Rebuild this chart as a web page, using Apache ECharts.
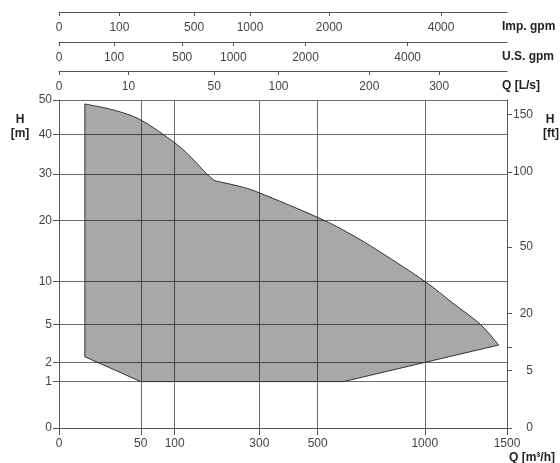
<!DOCTYPE html>
<html><head><meta charset="utf-8">
<script src="https://cdn.jsdelivr.net/npm/echarts@6/dist/echarts.min.js"></script>
<style>html,body{margin:0;padding:0;background:#fff}#c{width:560px;height:463px}</style>
</head><body><div id="c"></div>
<script>
// Tick label values (axes are square-root scaled)
const flowTicksM3h    = [0, 50, 100, 300, 500, 1000, 1500];
const flowTicksImpGpm = [0, 100, 500, 1000, 2000, 4000];
const flowTicksUsGpm  = [0, 100, 500, 1000, 2000, 4000];
const flowTicksLs     = [0, 10, 50, 100, 200, 300];
const headTicksM      = [0, 1, 2, 5, 10, 20, 30, 40, 50];
const headTicksFt     = [0, 5, 10, 20, 50, 100, 150];
const headLabelsFt    = [0, 5, 20, 50, 100, 150];

// Performance envelope outline: flow Q [m3/h], head H [m]
const envelopeQ = [5, 22, 50, 100, 130, 163, 182, 245, 300, 505, 634, 771, 1000, 1156, 1326, 1445, 1000, 605, 50, 5];
const envelopeH = [48.8, 47.0, 44.1, 37.8, 34.1, 30, 28.4, 27.1, 25.7, 20.5, 17.5, 14.4, 10, 7.3, 5, 3.2, 2, 1, 1, 2.36];

// which runs of the outline are drawn as smooth curves (index ranges)
const SMOOTH_RUNS = [[0, 6], [6, 15]];

// unit conversions
const M3H_PER_IMP = 0.2727654;
const M3H_PER_US = 0.22712471;
const M3H_PER_LS = 3.6;
const M_PER_FT = 0.3048;

const Q_MAX = 1500, H_MAX = 50;
const FONT = 'Liberation Sans, Arial, sans-serif';
const LBL = '#444';
const AX = '#555';
const GRIDC = '#6c6c6c';

function topAxis(ticks, factor, offset) {
  const cv = ticks.map(v => Math.sqrt(v * factor));
  return {
    type: 'value', position: 'top', offset: offset,
    min: 0, max: Math.sqrt(Q_MAX),
    axisLine: { show: true, onZero: false, lineStyle: { color: AX, width: 1 } },
    axisTick: { show: true, inside: true, length: 4, customValues: cv, lineStyle: { color: AX } },
    axisLabel: { show: true, inside: true, margin: 10, customValues: cv,
      formatter: v => String(Math.round(v * v / factor)),
      fontFamily: FONT, fontSize: 12, color: LBL },
    splitLine: { show: false }
  };
}

function smoothRunOf(i) {
  for (const r of SMOOTH_RUNS) if (i >= r[0] && i < r[1]) return r;
  return null;
}

function outlinePath(p) {
  const n = p.length;
  let d = 'M' + p[0][0] + ' ' + p[0][1];
  for (let i = 0; i < n; i++) {
    const j = (i + 1) % n;
    const run = smoothRunOf(i);
    if (run && j === i + 1) {
      const p0 = i > run[0] ? p[i - 1] : p[i];
      const p3 = i + 2 <= run[1] ? p[i + 2] : p[j];
      const c1 = [p[i][0] + (p[j][0] - p0[0]) / 6, p[i][1] + (p[j][1] - p0[1]) / 6];
      const c2 = [p[j][0] - (p3[0] - p[i][0]) / 6, p[j][1] - (p3[1] - p[i][1]) / 6];
      d += 'C' + c1[0] + ' ' + c1[1] + ' ' + c2[0] + ' ' + c2[1] + ' ' + p[j][0] + ' ' + p[j][1];
    } else {
      d += 'L' + p[j][0] + ' ' + p[j][1];
    }
  }
  return d + 'Z';
}

const chart = echarts.init(document.getElementById('c'), null, { renderer: 'canvas' });
const bottomCV = flowTicksM3h.map(v => Math.sqrt(v));
const leftCV = headTicksM.map(v => Math.sqrt(v));

chart.setOption({
  animation: false,
  backgroundColor: '#fff',
  grid: { left: 59, right: 53, top: 100, bottom: 35, show: false },
  xAxis: [
    {
      type: 'value', position: 'bottom', min: 0, max: Math.sqrt(Q_MAX),
      axisLine: { show: true, onZero: false, lineStyle: { color: AX, width: 1 } },
      axisTick: { show: true, length: 7, customValues: bottomCV, lineStyle: { color: AX } },
      axisLabel: { margin: 10, customValues: bottomCV,
        formatter: v => String(Math.round(v * v)),
        fontFamily: FONT, fontSize: 12, color: LBL },
      splitLine: { show: true, lineStyle: { color: GRIDC, width: 1 } }
    },
    topAxis(flowTicksImpGpm, M3H_PER_IMP, 88),
    topAxis(flowTicksUsGpm, M3H_PER_US, 58),
    topAxis(flowTicksLs, M3H_PER_LS, 29)
  ],
  yAxis: [
    {
      type: 'value', position: 'left', min: 0, max: Math.sqrt(H_MAX),
      axisLine: { show: true, onZero: false, lineStyle: { color: AX, width: 1 } },
      axisTick: { show: true, length: 6, customValues: leftCV, lineStyle: { color: AX } },
      axisLabel: { margin: 7, customValues: leftCV,
        formatter: v => String(Math.round(v * v)),
        fontFamily: FONT, fontSize: 12, color: LBL },
      splitLine: { show: true, lineStyle: { color: GRIDC, width: 1 } }
    },
    {
      type: 'value', position: 'right', min: 0, max: Math.sqrt(H_MAX),
      axisLine: { show: true, onZero: false, lineStyle: { color: AX, width: 1 } },
      axisTick: { show: true, length: 5, customValues: headTicksFt.map(v => Math.sqrt(v * M_PER_FT)), lineStyle: { color: AX } },
      axisLabel: { margin: 26, align: 'right', customValues: headLabelsFt.map(v => Math.sqrt(v * M_PER_FT)),
        formatter: v => String(Math.round(v * v / M_PER_FT)),
        fontFamily: FONT, fontSize: 12, color: LBL },
      splitLine: { show: false }
    }
  ],
  series: [{
    type: 'custom',
    coordinateSystem: 'cartesian2d',
    xAxisIndex: 0, yAxisIndex: 0,
    silent: true,
    clip: false,
    data: envelopeQ.map((q, i) => [Math.sqrt(q), Math.sqrt(envelopeH[i])]),
    encode: { x: 0, y: 1 },
    renderItem: function (params, api) {
      if (params.dataIndex !== 0) return null;
      const pts = envelopeQ.map((q, i) => api.coord([Math.sqrt(q), Math.sqrt(envelopeH[i])]));
      return {
        type: 'path',
        shape: { pathData: outlinePath(pts) },
        style: { fill: 'rgba(0,0,0,0.34)', stroke: '#333', lineWidth: 1 }
      };
    }
  }],
  graphic: [
    { type: 'text', x: 502, y: 27, style: { text: 'Imp. gpm', font: 'bold 12px ' + FONT, fill: '#222', verticalAlign: 'middle' } },
    { type: 'text', x: 502, y: 57, style: { text: 'U.S. gpm', font: 'bold 12px ' + FONT, fill: '#222', verticalAlign: 'middle' } },
    { type: 'text', x: 502, y: 86, style: { text: 'Q [L/s]', font: 'bold 12px ' + FONT, fill: '#222', verticalAlign: 'middle' } },
    { type: 'text', x: 20, y: 120, style: { text: 'H', font: 'bold 12px ' + FONT, fill: '#222', align: 'center', verticalAlign: 'middle' } },
    { type: 'text', x: 20, y: 134, style: { text: '[m]', font: 'bold 12px ' + FONT, fill: '#222', align: 'center', verticalAlign: 'middle' } },
    { type: 'text', x: 550, y: 120, style: { text: 'H', font: 'bold 12px ' + FONT, fill: '#222', align: 'center', verticalAlign: 'middle' } },
    { type: 'text', x: 551, y: 134, style: { text: '[ft]', font: 'bold 12px ' + FONT, fill: '#222', align: 'center', verticalAlign: 'middle' } },
    { type: 'text', x: 509, y: 458, style: { text: 'Q [m³/h]', font: 'bold 12px ' + FONT, fill: '#222', verticalAlign: 'middle' } }
  ]
});
</script>
</body></html>
